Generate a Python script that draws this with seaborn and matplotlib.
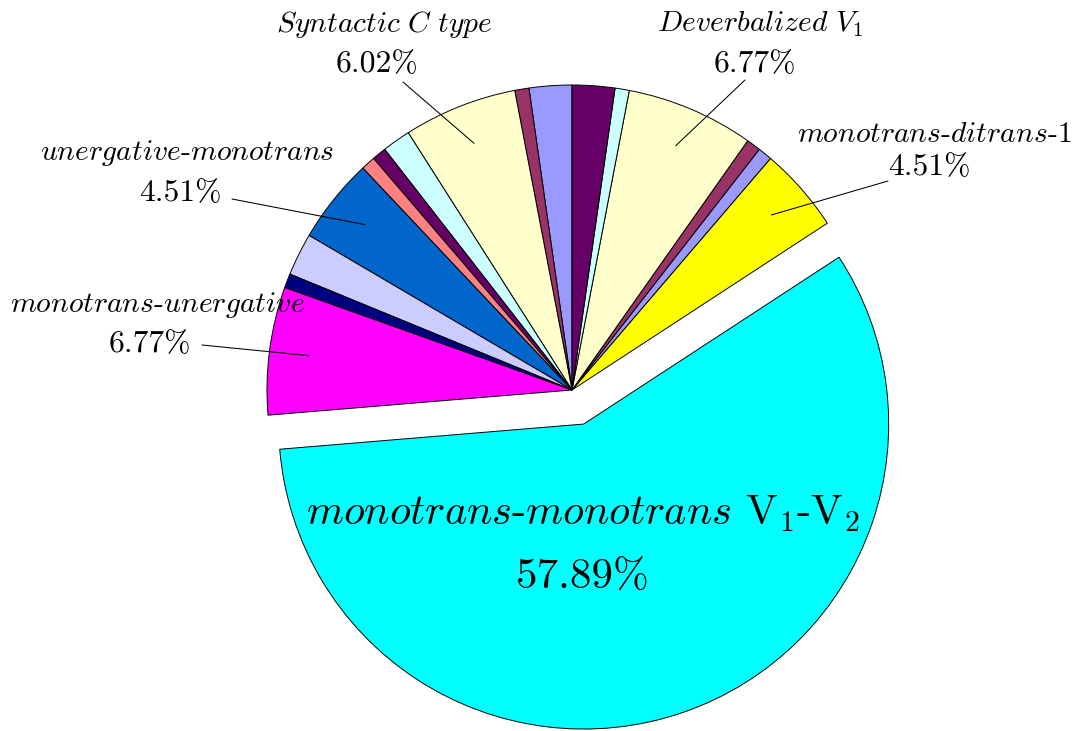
import numpy as np
import matplotlib
matplotlib.use("Agg")
import matplotlib.pyplot as plt
import seaborn as sns

# Counts per category, in drawing order (counter-clockwise from 12 o'clock)
slice_counts = [3, 1, 8, 2, 1, 1, 6, 3, 1, 9, 77, 6, 1, 1, 9, 1, 3]
slice_colors = ["#9999ff", "#993366", "#ffffcc", "#ccffff", "#660066",
                "#ff8080", "#0066cc", "#ccccff", "#000080", "#ff00ff",
                "#00ffff", "#ffff00", "#9999ff", "#993366", "#ffffcc",
                "#ccffff", "#660066"]

# Labelled slices
label_index = [2, 14, 11, 6, 9]
label_names = [
    r"$\mathit{Syntactic\ C\ type}$",
    r"$\mathit{Deverbalized}\ V_1$",
    r"$\mathit{monotrans}$-$\mathit{ditrans}$-1",
    r"$\mathit{unergative}$-$\mathit{monotrans}$",
    r"$\mathit{monotrans}$-$\mathit{unergative}$",
]
main_index = 10
main_name = r"$\mathit{monotrans}$-$\mathit{monotrans}$ V$_1$-V$_2$"

sns.set_theme(style="white")
plt.rcParams["font.family"] = ["cmr10"]
plt.rcParams["mathtext.fontset"] = "cm"
plt.rcParams["axes.formatter.use_mathtext"] = True

W, H = 1074, 731
fig = plt.figure(figsize=(W / 100, H / 100), dpi=100)
ax = fig.add_axes([0, 0, 1, 1])

cx, cy, R = 572, H - 390, 305
explode = [36 if i == main_index else 0 for i in range(len(slice_counts))]
palette = sns.color_palette(slice_colors)

wedges, _ = ax.pie(slice_counts, colors=palette, startangle=90,
                   counterclock=True, center=(cx, cy), radius=R,
                   explode=explode,
                   wedgeprops=dict(edgecolor="black", linewidth=0.7))
ax.set_xlim(0, W)
ax.set_ylim(0, H)
ax.set_aspect("equal")
ax.axis("off")

total = sum(slice_counts)

def pct_text(i):
    return f"{100 * slice_counts[i] / total:.2f}%"

# label layout: (name x, name baseline, pct x, pct baseline, leader end) in pixels from top-left
layout = [
    (384, 32, 377, 72, (403, 82)),
    (760, 32, 755, 72, (745, 80)),
    (934, 142, 929, 175, (888, 181)),
    (187, 160, 180, 201, (232, 199)),
    (157, 312, 150, 352, (202, 345)),
]
fs_name, fs_pct = 21.3, 22.8
for i, name, (nx, ny, px, py, (lx, ly)) in zip(label_index, label_names, layout):
    w = wedges[i]
    th = np.deg2rad(0.5 * (w.theta1 + w.theta2))
    ix = w.center[0] + 0.87 * R * np.cos(th)
    iy = w.center[1] + 0.87 * R * np.sin(th)
    ax.plot([ix, lx], [iy, H - ly], color="black", lw=0.75, zorder=3)
    ax.text(nx, H - ny, name, ha="center", va="baseline", fontsize=fs_name, color="black")
    ax.text(px, H - py, pct_text(i), ha="center", va="baseline", fontsize=fs_pct, color="black")

ax.text(583, H - 525, main_name, ha="center", va="baseline", fontsize=30.5, color="black")
ax.text(583, H - 588, pct_text(main_index), ha="center", va="baseline", fontsize=31, color="black")

fig.savefig("out.png", dpi=100, facecolor="white")
